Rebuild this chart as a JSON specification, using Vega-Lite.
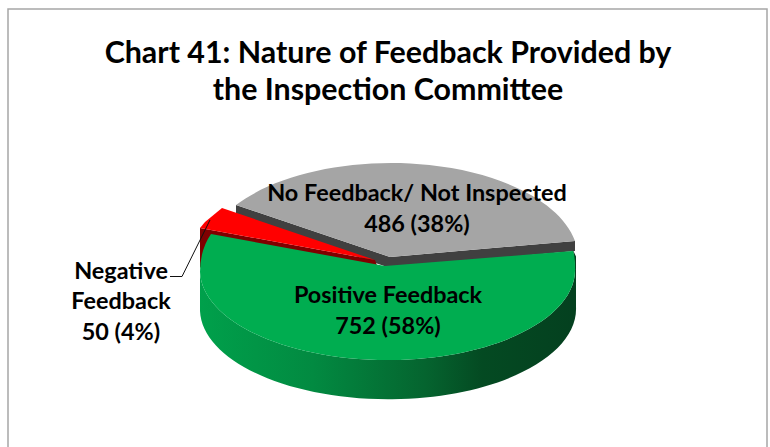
{
"$schema":"https://vega.github.io/schema/vega-lite/v6.json",
"width":770,"height":447,"padding":0,"autosize":{"type":"none"},
"background":"white",
"view":{"stroke":null},
"config":{"font":"Lato"},
"title":{"text":["Chart 41: Nature of Feedback Provided by","the Inspection Committee"],"font":"Lato","fontSize":30.4,"fontWeight":"bold","color":"#000000","anchor":"middle","frame":"group","offset":-136,"dx":3,"lineHeight":37,"baseline":"bottom"},
"data":{"values":[
{"category":"No Feedback/ Not Inspected","value":486,"label":"No Feedback/ Not Inspected\n486 (38%)"},
{"category":"Negative Feedback","value":50,"label":"Negative\nFeedback\n50 (4%)"},
{"category":"Positive Feedback","value":752,"label":"Positive Feedback\n752 (58%)"}
]},
"resolve":{"scale":{"shape":"independent","color":"independent"}},
"layer":[
{"data":{"values":[{"frame":"chart area"}]},
 "mark":{"type":"point","size":4,"opacity":1,"filled":false,"stroke":"#a6a6a6","strokeWidth":1.5,"fill":null,"shape":"M-377,240 L-377,-214.5 L382,-214.5 L382,240"}},
{"transform":[{"filter":"datum.category !== 'Positive Feedback'"}],
 "mark":{"type":"point","size":4,"opacity":1,"filled":true,"strokeWidth":0},
 "encoding":{
  "shape":{"field":"category","type":"nominal","legend":null,"scale":{"domain":["No Feedback/ Not Inspected","Negative Feedback"],"range":["M-149,-18.5 L5,33.5 L190,17.5 L190,27.5 L5,44.5 L-149,-8.5 Z","M-185,4.5 L-10,36.5 L-8,42 L-170,14 L-185,45 Z"]}},
  "color":{"field":"category","type":"nominal","legend":null,"scale":{"domain":["No Feedback/ Not Inspected","Negative Feedback"],"range":["#404040","#7f0000"]}}
 }},
{"transform":[{"filter":"datum.category === 'Positive Feedback'"}],
 "mark":{"type":"point","size":4,"opacity":1,"filled":true,"strokeWidth":0,
  "shape":"M188,26.5 L191,33 L191,83.5 A187.5,90 0 0,1 -185,87.5 L-185,48.5 A187.5,90 0 0,0 190,44.5 Z",
  "fill":{"gradient":"linear","x1":0,"x2":1,"y1":0,"y2":0,"stops":[{"offset":0,"color":"#00a04b"},{"offset":0.3,"color":"#028a41"},{"offset":0.6,"color":"#05642f"},{"offset":0.75,"color":"#044a22"},{"offset":1,"color":"#04401f"}]}}},
{"mark":{"type":"point","size":4,"opacity":1,"filled":true,"strokeWidth":0},
 "encoding":{
  "shape":{"field":"category","type":"nominal","legend":null,"sort":null,"scale":{"domain":["No Feedback/ Not Inspected","Negative Feedback","Positive Feedback"],"range":["M5,33.5 L-149,-18.5 A187,95 0 0,1 190,17.5 Z","M-10,36.5 L-163,-15.5 L-180,-1.5 L-185,4.5 Z","M0,42.5 L-174,10.5 Q-185,26.5 -185,48.5 A187.5,90 0 0,0 190,44.5 Q190,32.5 188,27.5 Z"]}},
  "color":{"field":"category","type":"nominal","legend":null,"scale":{"domain":["No Feedback/ Not Inspected","Negative Feedback","Positive Feedback"],"range":["#a5a5a5","#ff0000","#00ad50"]}}
 }},
{"transform":[{"filter":"datum.category === 'Negative Feedback'"}],
 "mark":{"type":"point","size":4,"opacity":1,"filled":false,"fill":null,"stroke":"#111111","strokeWidth":1,"shape":"M-215,53 L-203,53 L-175,-3.5"}},
{"transform":[{"filter":"datum.category === 'No Feedback/ Not Inspected'"}],
 "mark":{"type":"text","font":"Lato","fontWeight":"bold","fontSize":23.4,"lineBreak":"\n","lineHeight":30.5,"color":"#000000","align":"center","baseline":"middle","dx":32,"dy":-29.5},
 "encoding":{"text":{"field":"label","type":"nominal"}}},
{"transform":[{"filter":"datum.category === 'Positive Feedback'"}],
 "mark":{"type":"text","font":"Lato","fontWeight":"bold","fontSize":23.4,"lineBreak":"\n","lineHeight":31,"color":"#000000","align":"center","baseline":"middle","dx":3,"dy":72.5},
 "encoding":{"text":{"field":"label","type":"nominal"}}},
{"transform":[{"filter":"datum.category === 'Negative Feedback'"}],
 "mark":{"type":"text","font":"Lato","fontWeight":"bold","fontSize":23.4,"lineBreak":"\n","lineHeight":30.5,"color":"#000000","align":"center","baseline":"middle","dx":-264,"dy":48},
 "encoding":{"text":{"field":"label","type":"nominal"}}}
]
}
